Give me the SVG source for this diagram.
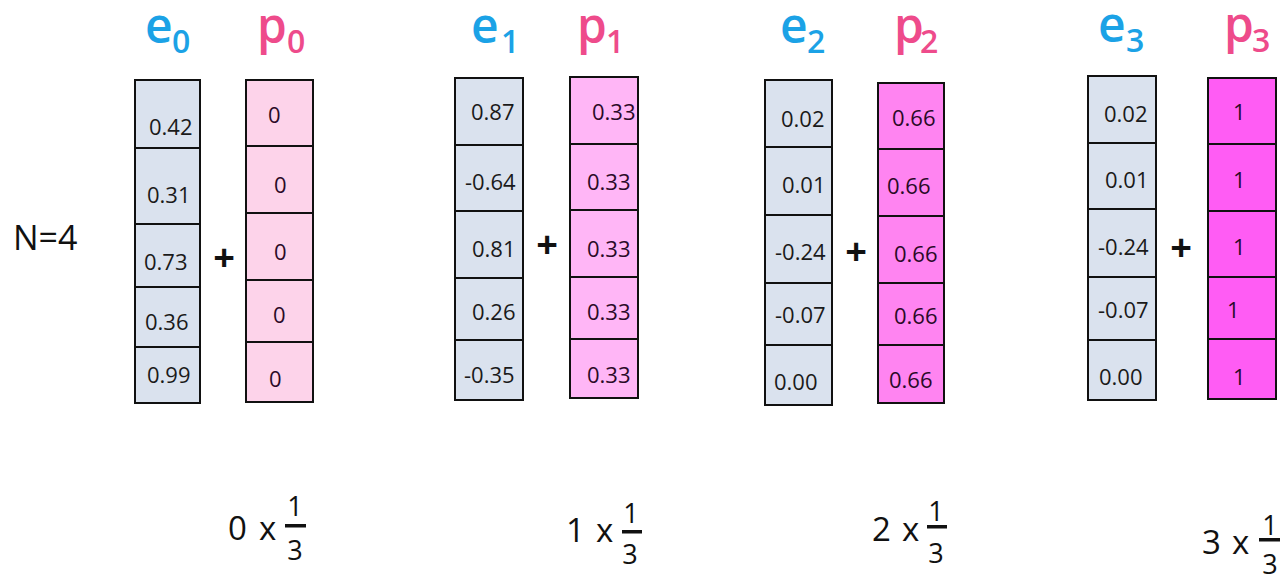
<svg xmlns="http://www.w3.org/2000/svg" width="1282" height="575" viewBox="0 0 1282 575">
<style>
.bg{fill:#ffffff}
.ecol{fill:#dae2ee;stroke:#111;stroke-width:2}
.p0{fill:#fdd3ea;stroke:#111;stroke-width:2}
.p1{fill:#ffb6f6;stroke:#111;stroke-width:2}
.p2{fill:#ff84f1;stroke:#111;stroke-width:2}
.p3{fill:#ff5cf4;stroke:#111;stroke-width:2}
.sep{stroke:#111;stroke-width:2}
.v{font-family:"Open Sans","Liberation Sans",sans-serif;font-size:22px;fill:#1a1a1a}
.vp{font-family:"Open Sans","Liberation Sans",sans-serif;font-size:22px;fill:#2a0a28}
.he{font-family:"Open Sans","Liberation Sans",sans-serif;font-size:48px;font-weight:600;fill:#1ba2e6}
.hp{font-family:"Open Sans","Liberation Sans",sans-serif;font-size:48px;font-weight:600;fill:#ee4b8b}
.se{font-size:32px}
.plus{font-family:"Open Sans","Liberation Sans",sans-serif;font-size:38px;font-weight:700;fill:#111;text-anchor:middle}
.big{font-family:"Open Sans","Liberation Sans",sans-serif;font-size:33px;fill:#111}
.fr{font-family:"Open Sans","Liberation Sans",sans-serif;font-size:27px;fill:#111;text-anchor:middle}
.bar{fill:#111}
</style>
<rect class="bg" x="0" y="0" width="1282" height="575"/>

<text id="nlabel" class="big" x="13" y="250" style="font-size:34px">N=4</text>

<!-- group 0 -->
<g id="e0">
  <text class="he" x="145" y="43">e<tspan class="se" x="172" y="53">0</tspan></text>
  <rect class="ecol" x="135" y="80" width="65" height="323"/>
  <line class="sep" x1="135" y1="148" x2="200" y2="148"/>
  <line class="sep" x1="135" y1="224" x2="200" y2="224"/>
  <line class="sep" x1="135" y1="287" x2="200" y2="287"/>
  <line class="sep" x1="135" y1="347" x2="200" y2="347"/>
  <text class="v" x="149" y="135">0.42</text>
  <text class="v" x="147" y="203">0.31</text>
  <text class="v" x="144" y="270">0.73</text>
  <text class="v" x="145" y="330">0.36</text>
  <text class="v" x="147" y="383">0.99</text>
</g>
<g id="p0">
  <text class="hp" x="257" y="43">p<tspan class="se" x="287" y="53">0</tspan></text>
  <rect class="p0" x="246" y="80" width="67" height="322"/>
  <line class="sep" x1="246" y1="146" x2="313" y2="146"/>
  <line class="sep" x1="246" y1="213" x2="313" y2="213"/>
  <line class="sep" x1="246" y1="280" x2="313" y2="280"/>
  <line class="sep" x1="246" y1="342" x2="313" y2="342"/>
  <text class="vp" x="268" y="123">0</text>
  <text class="vp" x="274" y="193">0</text>
  <text class="vp" x="274" y="260">0</text>
  <text class="vp" x="273" y="323">0</text>
  <text class="vp" x="269" y="387">0</text>
</g>
<text class="plus" x="224" y="271">+</text>
<g id="f0">
  <text class="big" x="228" y="540">0</text>
  <text class="big" x="259" y="540">x</text>
  <rect class="bar" x="285" y="524" width="21" height="3.5"/>
  <text class="fr" x="295" y="516">1</text>
  <text class="fr" x="295" y="560">3</text>
</g>

<!-- group 1 -->
<g id="e1">
  <text class="he" x="471" y="43">e<tspan class="se" x="501" y="53">1</tspan></text>
  <rect class="ecol" x="455" y="78" width="68" height="322"/>
  <line class="sep" x1="455" y1="145" x2="523" y2="145"/>
  <line class="sep" x1="455" y1="211" x2="523" y2="211"/>
  <line class="sep" x1="455" y1="278" x2="523" y2="278"/>
  <line class="sep" x1="455" y1="340" x2="523" y2="340"/>
  <text class="v" x="471" y="120">0.87</text>
  <text class="v" x="465" y="190">-0.64</text>
  <text class="v" x="472" y="257">0.81</text>
  <text class="v" x="472" y="320">0.26</text>
  <text class="v" x="464" y="383">-0.35</text>
</g>
<g id="p1">
  <text class="hp" x="577" y="43">p<tspan class="se" x="606" y="53">1</tspan></text>
  <rect class="p1" x="570" y="77" width="68" height="321"/>
  <line class="sep" x1="570" y1="144" x2="638" y2="144"/>
  <line class="sep" x1="570" y1="210" x2="638" y2="210"/>
  <line class="sep" x1="570" y1="277" x2="638" y2="277"/>
  <line class="sep" x1="570" y1="339" x2="638" y2="339"/>
  <text class="vp" x="592" y="120">0.33</text>
  <text class="vp" x="587" y="190">0.33</text>
  <text class="vp" x="587" y="257">0.33</text>
  <text class="vp" x="587" y="320">0.33</text>
  <text class="vp" x="587" y="383">0.33</text>
</g>
<text class="plus" x="547" y="258">+</text>
<g id="f1">
  <text class="big" x="566" y="542">1</text>
  <text class="big" x="596" y="542">x</text>
  <rect class="bar" x="622" y="530" width="20" height="3.5"/>
  <text class="fr" x="631" y="523">1</text>
  <text class="fr" x="630" y="564">3</text>
</g>

<!-- group 2 -->
<g id="e2">
  <text class="he" x="780" y="43">e<tspan class="se" x="807" y="53">2</tspan></text>
  <rect class="ecol" x="765" y="80" width="67" height="325"/>
  <line class="sep" x1="765" y1="147" x2="832" y2="147"/>
  <line class="sep" x1="765" y1="215" x2="832" y2="215"/>
  <line class="sep" x1="765" y1="283" x2="832" y2="283"/>
  <line class="sep" x1="765" y1="345" x2="832" y2="345"/>
  <text class="v" x="781" y="127">0.02</text>
  <text class="v" x="782" y="193">0.01</text>
  <text class="v" x="775" y="260">-0.24</text>
  <text class="v" x="775" y="323">-0.07</text>
  <text class="v" x="774" y="390">0.00</text>
</g>
<g id="p2">
  <text class="hp" x="894" y="43">p<tspan class="se" x="920" y="53">2</tspan></text>
  <rect class="p2" x="878" y="83" width="66" height="320"/>
  <line class="sep" x1="878" y1="149" x2="944" y2="149"/>
  <line class="sep" x1="878" y1="216" x2="944" y2="216"/>
  <line class="sep" x1="878" y1="283" x2="944" y2="283"/>
  <line class="sep" x1="878" y1="345" x2="944" y2="345"/>
  <text class="vp" x="892" y="126">0.66</text>
  <text class="vp" x="887" y="194">0.66</text>
  <text class="vp" x="894" y="262">0.66</text>
  <text class="vp" x="894" y="324">0.66</text>
  <text class="vp" x="889" y="388">0.66</text>
</g>
<text class="plus" x="856" y="265">+</text>
<g id="f2">
  <text class="big" x="872" y="541">2</text>
  <text class="big" x="902" y="541">x</text>
  <rect class="bar" x="927" y="525" width="20" height="3.5"/>
  <text class="fr" x="936" y="521">1</text>
  <text class="fr" x="936" y="563">3</text>
</g>

<!-- group 3 -->
<g id="e3">
  <text class="he" x="1098" y="42">e<tspan class="se" x="1126" y="52">3</tspan></text>
  <rect class="ecol" x="1088" y="76" width="68" height="324"/>
  <line class="sep" x1="1088" y1="143" x2="1156" y2="143"/>
  <line class="sep" x1="1088" y1="209" x2="1156" y2="209"/>
  <line class="sep" x1="1088" y1="277" x2="1156" y2="277"/>
  <line class="sep" x1="1088" y1="340" x2="1156" y2="340"/>
  <text class="v" x="1104" y="122">0.02</text>
  <text class="v" x="1105" y="188">0.01</text>
  <text class="v" x="1098" y="255">-0.24</text>
  <text class="v" x="1098" y="318">-0.07</text>
  <text class="v" x="1099" y="385">0.00</text>
</g>
<g id="p3">
  <text class="hp" x="1224" y="42">p<tspan class="se" x="1252" y="52">3</tspan></text>
  <rect class="p3" x="1208" y="78" width="68" height="321"/>
  <line class="sep" x1="1208" y1="144" x2="1276" y2="144"/>
  <line class="sep" x1="1208" y1="211" x2="1276" y2="211"/>
  <line class="sep" x1="1208" y1="277" x2="1276" y2="277"/>
  <line class="sep" x1="1208" y1="339" x2="1276" y2="339"/>
  <text class="vp" x="1233" y="120">1</text>
  <text class="vp" x="1233" y="188">1</text>
  <text class="vp" x="1233" y="255">1</text>
  <text class="vp" x="1227" y="318">1</text>
  <text class="vp" x="1233" y="385">1</text>
</g>
<text class="plus" x="1181" y="261">+</text>
<g id="f3">
  <text class="big" x="1202" y="554">3</text>
  <text class="big" x="1232" y="554">x</text>
  <rect class="bar" x="1259" y="538" width="21" height="3.5"/>
  <text class="fr" x="1270" y="535">1</text>
  <text class="fr" x="1270" y="574">3</text>
</g>

<g id="connectors"></g>
</svg>
